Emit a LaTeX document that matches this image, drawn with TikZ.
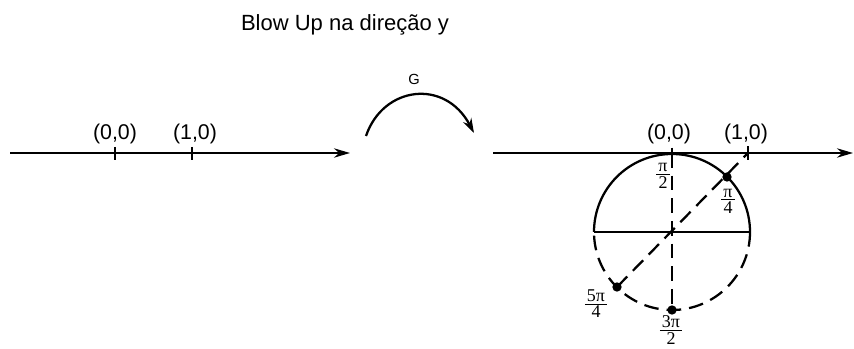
\documentclass[tikz,border=0pt]{standalone}
\usepackage{fontspec}
\setmainfont{Liberation Sans}
\newfontfamily\serifnum{Liberation Serif}
\usetikzlibrary{arrows.meta}
\newcommand{\pfrac}[2]{$\textstyle{\hbox{\serifnum\kern1.5pt #1\kern1.5pt}\above 0.8pt\hbox{\serifnum #2}}$}
\begin{document}
\begin{tikzpicture}[x=0.75pt,y=-0.75pt,line width=1.7pt,
  axis/.style={line width=1.7pt,-{Stealth[length=12pt,width=7pt]}},
  ticmark/.style={line width=1.8pt},
  lbl/.style={font=\fontsize{16}{19}\selectfont,anchor=base,inner sep=0pt},
  fraclbl/.style={font=\fontsize{13.5}{15}\selectfont,inner sep=0pt},
  dot/.style={circle,fill=black,inner sep=0pt,minimum size=7pt},
  dashedline/.style={dash pattern=on 11pt off 6pt}]
\useasboundingbox (0,0) rectangle (854,349);
% title
\node[font=\fontsize{16.5}{19}\selectfont,anchor=base,inner sep=0pt] (title) at (345,31) {Blow Up na direção y};
% left axis
\coordinate (L0) at (10,153);
\coordinate (L1) at (350,153);
\draw[axis] (L0) -- (L1);
\coordinate (A0) at (115,153);
\coordinate (A1) at (192,153);
\draw[ticmark] ([yshift=4.5pt]A0) -- ([yshift=-5pt]A0);
\draw[ticmark] ([yshift=4.5pt]A1) -- ([yshift=-5pt]A1);
\node[lbl] (la0) at (115,140) {(0,0)};
\node[lbl] (la1) at (195,140) {(1,0)};
% map arrow
\coordinate (G0) at (366,136);
\coordinate (G1) at (474,133);
\draw[-{Stealth[length=11pt,width=7pt]}] (G0) .. controls (383,86) and (445,78) .. (G1);
\node[font=\fontsize{11}{13}\selectfont,inner sep=0pt] (G) at (414,79) {G};
% right axis
\coordinate (R0) at (493,153);
\coordinate (R1) at (853,153);
\draw[axis] (R0) -- (R1);
\coordinate (B0) at (672,153);
\coordinate (B1) at (748,153);
\draw[ticmark] ([yshift=4pt]B0) -- ([yshift=-5pt]B0);
\draw[ticmark] ([yshift=5pt]B1) -- ([yshift=-5pt]B1);
\node[lbl] (lb0) at (669,140) {(0,0)};
\node[lbl] (lb1) at (746,140) {(1,0)};
% circle
\coordinate (C) at (672,232);
\coordinate (CL) at (594,232);
\coordinate (CR) at (750,232);
\coordinate (CB) at (672,310);
\coordinate (P1) at (727,177);
\coordinate (P5) at (617,287);
\draw (CL) arc[start angle=180,end angle=360,radius=78];
\draw[dashedline] (CR) arc[start angle=0,end angle=180,radius=78];
\draw (CL) -- (CR);
\draw[dashedline] (B0) -- (CB);
\draw[dashedline] (P5) -- (B1);
\node[dot] (d1) at (P1) {};
\node[dot] (d5) at (P5) {};
\node[dot] (d3) at (CB) {};
\node[fraclbl] (f2) at (663,176) {\pfrac{π}{2}};
\node[fraclbl] (f4) at (728,201) {\pfrac{π}{4}};
\node[fraclbl] (f54) at (596,304) {\pfrac{5π}{4}};
\node[fraclbl] (f32) at (671,330) {\pfrac{3π}{2}};
\end{tikzpicture}
\end{document}
